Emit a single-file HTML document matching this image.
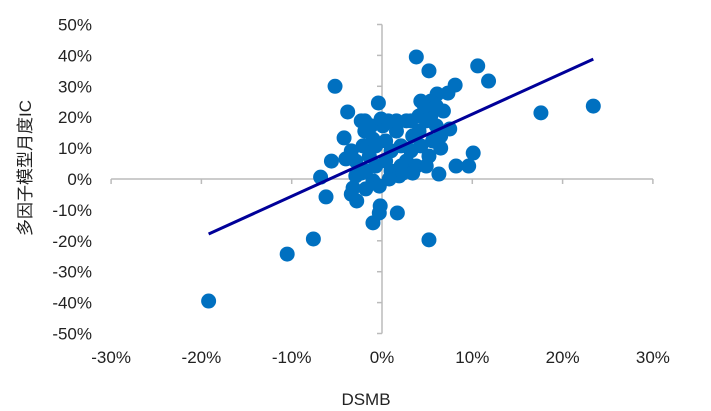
<!DOCTYPE html>
<html><head><meta charset="utf-8"><style>
body{margin:0;background:#fff;width:711px;height:411px;overflow:hidden}
svg{display:block}
text{font-family:"Liberation Sans",Arial,sans-serif;font-size:17px;fill:#222}
</style></head><body>
<svg id="chart" width="711" height="411"></svg>
<script>
const xs = [-19.2,-10.5,-7.6,-6.2,-6.8,-5.6,-5.2,-3.8,-4.2,-2.9,-3.4,-2.8,-3.2,-1,-1,-0.2,-0.3,1.7,-0.4,-1.9,3.8,5.2,10.6,11.8,8.1,7.3,6.1,5,5.2,10.1,9.6,8.2,6.3,7.5,6.5,17.6,23.4,
-1.9,-2.1,-1.2,-1.4,-0.7,0.1,0.4,1.0,1.6,2.1,2.7,3.2,3.4,4.1,4.3,4.9,5.4,6.0,5.6,5.2,3.8,2.1,1.0,0.4,-0.7,-1.8,-2.9,1.6,2.7,3.2,4.1,4.7,5.4,6.8,6.0,4.3,1.9,2.3,6.5,4.9,3.4,0.8,-0.3,-1.8,-2.3,-1.0,-3.4,-4.0,-2.3,-0.1,0.7];
const ys = [-39.5,-24.3,-19.4,-5.8,0.6,5.8,30,21.7,13.3,5.8,-4.9,-7.1,-2.9,-0.6,-14.2,-8.7,-11,-11,24.6,18.8,39.5,35,36.6,31.7,30.4,27.8,27.5,22.3,-19.7,8.4,4.2,4.2,1.6,16.2,10,21.4,23.6,
15.5,10.7,17.2,7.4,10.7,17.2,12.3,9.1,15.5,10.7,5.8,9.1,13.9,15.5,10.7,18.8,20.4,17.2,12.3,7.4,4.2,4.2,2.6,5.8,4.2,2.6,1.0,18.8,18.8,18.8,20.4,23.6,25.2,22.0,23.6,25.2,1.0,1.9,13.9,4.2,1.9,0,-2.3,-3.2,1.9,12.9,9.1,6.5,18.8,19.4,18.8];
const fitX = [-19.2, 23.4];
const fitY = [-17.8, 38.8];
const xTicks = [-30,-20,-10,0,10,20,30];
const yTicks = [50,40,30,20,10,0,-10,-20,-30,-40,-50];

const NS="http://www.w3.org/2000/svg";
const svg=document.getElementById('chart');
const X=v=>382+v*9.03;
const Y=v=>179-v*3.09;
function mk(tag,attrs,parent){const e=document.createElementNS(NS,tag);for(const k in attrs)e.setAttribute(k,attrs[k]);(parent||svg).appendChild(e);return e;}

let ax=mk('line',{x1:X(-30),x2:X(30),y1:Y(0),y2:Y(0),stroke:'#bbb','stroke-width':1.5});


let ay=mk('line',{x1:X(0),x2:X(0),y1:Y(50),y2:Y(-50),stroke:'#bbb','stroke-width':1.5});


xTicks.forEach(t=>{
  mk('line',{x1:X(t),x2:X(t),y1:Y(0),y2:Y(0)+5,stroke:'#bbb','stroke-width':1.5});
  let tx=mk('text',{x:X(t),y:363,'text-anchor':'middle'});tx.textContent=t+'%';
  
  
});
yTicks.forEach(t=>{
  mk('line',{x1:X(0)-5,x2:X(0),y1:Y(t),y2:Y(t),stroke:'#bbb','stroke-width':1.5});
  let tx=mk('text',{x:92,y:Y(t)+6,'text-anchor':'end'});tx.textContent=t+'%';
  
  
});
xs.forEach((v,i)=>{
  let c=mk('circle',{cx:X(v),cy:Y(ys[i]),r:7.5,fill:'#0070c0'});
  
  
});
let fl=mk('line',{x1:X(fitX[0]),y1:Y(fitY[0]),x2:X(fitX[1]),y2:Y(fitY[1]),stroke:'#000099','stroke-width':3});


let xt=mk('text',{x:366,y:405,'text-anchor':'middle'});xt.textContent='DSMB';


let yt=mk('text',{x:0,y:0,'text-anchor':'middle',transform:'translate(31,168) rotate(-90)',style:'font-family:"Liberation Sans","Noto Sans CJK SC",sans-serif;font-size:17px'});yt.textContent='多因子模型月度IC';


</script>
</body></html>
